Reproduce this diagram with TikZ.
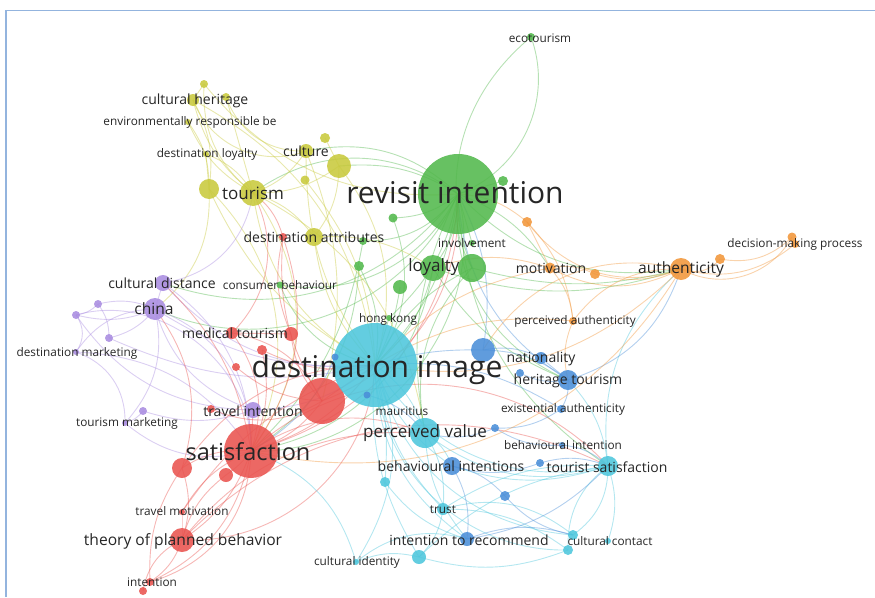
\documentclass[tikz,border=0pt]{standalone}
\usepackage{fontspec}
\newfontfamily\vosfont{Open Sans}
\definecolor{frm}{HTML}{93B4DE}
\definecolor{txt}{HTML}{262626}
\definecolor{grn}{HTML}{52B84C}
\definecolor{yel}{HTML}{C8C93C}
\definecolor{pur}{HTML}{A98CE0}
\definecolor{red}{HTML}{E9534F}
\definecolor{cya}{HTML}{4DC6DC}
\definecolor{blu}{HTML}{4A8ED8}
\definecolor{ora}{HTML}{F1963A}
\pgfdeclarelayer{bg}
\pgfsetlayers{bg,main}

\begin{document}
\begin{tikzpicture}[x=1pt,y=-1pt,
  kw/.style={circle, inner sep=0pt, draw=none, fill opacity=0.88},
  edge/.style={line width=0.9pt, draw opacity=0.42},
  lab/.style={text=txt, inner sep=0pt},
  fs/.style={font=\vosfont\fontsize{11.8}{12}\selectfont},
  fm/.style={font=\vosfont\fontsize{14}{15}\selectfont},
  fk/.style={font=\vosfont\fontsize{15.6}{16}\selectfont},
  fl/.style={font=\vosfont\fontsize{17}{18}\selectfont},
  fx/.style={font=\vosfont\fontsize{23.5}{24}\selectfont},
  fh/.style={font=\vosfont\fontsize{30}{31}\selectfont}]
\useasboundingbox (0,0) rectangle (875,597);
\draw[frm, line width=1.3pt] (6,597) -- (6,10.5) -- (875,10.5);

\node[kw, fill=grn, minimum size=80] (ri) at (458,194) {};
\node[kw, fill=grn, minimum size=8] (eco) at (531,37) {};
\node[kw, fill=grn, minimum size=10] (g1) at (503,181) {};
\node[kw, fill=grn, minimum size=6] (inv) at (472,243) {};
\node[kw, fill=grn, minimum size=26] (loy) at (433,268) {};
\node[kw, fill=grn, minimum size=28] (g2) at (472,268) {};
\node[kw, fill=grn, minimum size=9] (g3) at (393,218) {};
\node[kw, fill=grn, minimum size=8] (g4) at (363,241) {};
\node[kw, fill=grn, minimum size=10] (g5) at (359,266) {};
\node[kw, fill=grn, minimum size=14] (g6) at (400,287) {};
\node[kw, fill=grn, minimum size=7] (cb) at (280,285) {};
\node[kw, fill=grn, minimum size=6] (hk) at (389,318) {};

\node[kw, fill=yel, minimum size=26] (tou) at (253,193) {};
\node[kw, fill=yel, minimum size=20] (y1) at (209,189) {};
\node[kw, fill=yel, minimum size=12] (ch) at (193,100) {};
\node[kw, fill=yel, minimum size=8] (y2) at (204,84) {};
\node[kw, fill=yel, minimum size=8] (y3) at (226,97) {};
\node[kw, fill=yel, minimum size=6] (erb) at (188,122) {};
\node[kw, fill=yel, minimum size=6] (dl) at (206,154) {};
\node[kw, fill=yel, minimum size=14] (cul) at (306,151) {};
\node[kw, fill=yel, minimum size=24] (y4) at (339,166) {};
\node[kw, fill=yel, minimum size=10] (y5) at (325,138) {};
\node[kw, fill=yel, minimum size=9] (y6) at (305,180) {};
\node[kw, fill=yel, minimum size=18] (da) at (314,237) {};

\node[kw, fill=pur, minimum size=16] (cd) at (163,283) {};
\node[kw, fill=pur, minimum size=22] (chi) at (155,309) {};
\node[kw, fill=pur, minimum size=8] (p1) at (76,315) {};
\node[kw, fill=pur, minimum size=8] (p2) at (98,304) {};
\node[kw, fill=pur, minimum size=8] (p3) at (109,338) {};
\node[kw, fill=pur, minimum size=6] (dm) at (76,352) {};
\node[kw, fill=pur, minimum size=6] (tm) at (125,423) {};
\node[kw, fill=pur, minimum size=8] (p4) at (143,411) {};
\node[kw, fill=pur, minimum size=16] (ti) at (253,410) {};

\node[kw, fill=red, minimum size=54] (sat) at (251,451) {};
\node[kw, fill=red, minimum size=46] (r1) at (322,401) {};
\node[kw, fill=red, minimum size=20] (r2) at (182,468) {};
\node[kw, fill=red, minimum size=14] (r3) at (226,475) {};
\node[kw, fill=red, minimum size=12] (mt) at (232,333) {};
\node[kw, fill=red, minimum size=14] (r4) at (291,334) {};
\node[kw, fill=red, minimum size=10] (r5) at (262,350) {};
\node[kw, fill=red, minimum size=8] (r6) at (236,367) {};
\node[kw, fill=red, minimum size=8] (r7) at (211,409) {};
\node[kw, fill=red, minimum size=6] (tmo) at (182,512) {};
\node[kw, fill=red, minimum size=24] (tpb) at (182,540) {};
\node[kw, fill=red, minimum size=8] (int) at (150,582) {};
\node[kw, fill=red, minimum size=8] (r8) at (143,591) {};
\node[kw, fill=red, minimum size=8] (r9) at (283,237) {};

\node[kw, fill=cya, minimum size=84] (di) at (375,365) {};
\node[kw, fill=cya, minimum size=30] (pv) at (425,433) {};
\node[kw, fill=cya, minimum size=12] (tr) at (443,509) {};
\node[kw, fill=cya, minimum size=10] (c1) at (385,482) {};
\node[kw, fill=cya, minimum size=6] (ci) at (356,562) {};
\node[kw, fill=cya, minimum size=14] (c2) at (419,557) {};
\node[kw, fill=cya, minimum size=20] (ts) at (608,466) {};
\node[kw, fill=cya, minimum size=10] (cc1) at (573,535) {};
\node[kw, fill=cya, minimum size=10] (cc2) at (568,550) {};
\node[kw, fill=cya, minimum size=6] (cc) at (608,541) {};

\node[kw, fill=blu, minimum size=24] (b1) at (483,350) {};
\node[kw, fill=blu, minimum size=12] (nat) at (541,358) {};
\node[kw, fill=blu, minimum size=8] (b2) at (520,373) {};
\node[kw, fill=blu, minimum size=20] (ht) at (568,380) {};
\node[kw, fill=blu, minimum size=8] (ea) at (561,409) {};
\node[kw, fill=blu, minimum size=8] (b3) at (495,428) {};
\node[kw, fill=blu, minimum size=6] (bi) at (562,445) {};
\node[kw, fill=blu, minimum size=18] (bis) at (452,466) {};
\node[kw, fill=blu, minimum size=8] (b4) at (540,463) {};
\node[kw, fill=blu, minimum size=10] (b5) at (505,496) {};
\node[kw, fill=blu, minimum size=14] (itr) at (467,539) {};
\node[kw, fill=blu, minimum size=7] (b6) at (367,395) {};
\node[kw, fill=blu, minimum size=7] (b7) at (335,357) {};

\node[kw, fill=ora, minimum size=22] (aut) at (681,269) {};
\node[kw, fill=ora, minimum size=10] (o1) at (720,259) {};
\node[kw, fill=ora, minimum size=9] (dmp1) at (792,237) {};
\node[kw, fill=ora, minimum size=8] (dmp) at (795,244) {};
\node[kw, fill=ora, minimum size=11] (mot) at (550,268) {};
\node[kw, fill=ora, minimum size=10] (o2) at (595,274) {};
\node[kw, fill=ora, minimum size=10] (o3) at (527,222) {};
\node[kw, fill=ora, minimum size=8] (pa) at (573,321) {};

\begin{pgfonlayer}{bg}
\foreach \a/\b/\c/\k in {eco/ri/grn/25, eco/g2/grn/-20, ri/loy/grn/10, ri/g2/grn/-10,
  ri/g3/grn/10, ri/g4/grn/15, ri/cb/grn/20, ri/hk/grn/10, ri/di/grn/10, ri/tou/grn/-20,
  ri/cul/grn/-15, ri/y4/grn/-10, ri/aut/grn/-15, ri/mot/grn/10, ri/chi/grn/25,
  ri/cd/grn/20, ri/sat/grn/30, ri/pv/grn/-10, ri/ht/grn/-20, loy/di/grn/10,
  loy/aut/grn/-10, g2/di/grn/-10, g2/pv/grn/-15, g2/aut/grn/-8, loy/sat/grn/20,
  g1/ri/grn/0, g5/di/grn/10, g6/di/grn/5, g3/di/grn/15, cb/di/grn/-15, hk/di/grn/0,
  inv/ri/grn/0, g5/sat/grn/15, ri/ts/grn/-15, loy/ht/grn/-10, g4/sat/grn/10,
  ch/tou/yel/-10, ch/y1/yel/10, y2/tou/yel/-15, y2/ch/yel/0, y3/tou/yel/0,
  y3/cul/yel/-20, erb/y1/yel/10, erb/tou/yel/-10, dl/tou/yel/10, dl/y1/yel/0,
  tou/y4/yel/-10, tou/cul/yel/-10, tou/da/yel/10, tou/di/yel/-15, tou/sat/yel/20,
  y1/chi/yel/15, y1/di/yel/-10, y4/da/yel/10, y4/di/yel/15, y5/y4/yel/0,
  y6/di/yel/10, cul/di/yel/-10, cul/r1/yel/10, da/di/yel/-10, da/loy/yel/10,
  ch/cul/yel/-25, y2/ri/yel/-15, ch/di/yel/15, tou/pv/yel/15, y1/sat/yel/20,
  chi/p1/pur/10, chi/p2/pur/-10, chi/p3/pur/10, chi/dm/pur/-15, p1/dm/pur/20,
  p1/p2/pur/-10, p2/p3/pur/10, chi/tm/pur/15, tm/p4/pur/-10, p4/ti/pur/-10,
  chi/cd/pur/0, chi/di/pur/-10, chi/ti/pur/-15, chi/sat/pur/20, cd/di/pur/-15,
  cd/tou/pur/-20, dm/tm/pur/20, p1/sat/pur/30, tm/sat/pur/-15, ti/di/pur/-10,
  p1/ti/pur/-15, p3/di/pur/-10, dm/sat/pur/15, cd/sat/pur/15,
  sat/tpb/red/10, sat/r2/red/-10, sat/r3/red/5, sat/ti/red/0, sat/r1/red/-10,
  sat/di/red/-10, sat/pv/red/15, sat/mt/red/-15, sat/tmo/red/-10, sat/int/red/20,
  sat/ts/red/25, r1/di/red/0, r1/mt/red/-15, r1/r4/red/10, r1/ri/red/-20,
  r2/tpb/red/10, r2/int/red/-10, r3/tpb/red/-10, tpb/int/red/10, tpb/r8/red/-15,
  tpb/tmo/red/0, tpb/di/red/-25, mt/r4/red/0, mt/tou/red/-20, r4/r9/red/10,
  r9/tou/red/-10, r9/sat/red/15, r5/di/red/-10, r6/r1/red/-10, r7/r1/red/-15,
  r5/sat/red/10, r9/r1/red/-10, sat/ri/red/-20, tpb/pv/red/15, tpb/ts/red/20,
  r2/chi/red/-15, r2/di/red/15, tmo/di/red/10, sat/cd/red/-10, int/sat/red/-15,
  di/pv/cya/10, di/tr/cya/-10, di/ci/cya/15, di/c2/cya/-10, di/ts/cya/-20,
  di/bis/cya/-10, di/itr/cya/-15, di/cc1/cya/-20, di/cc2/cya/-25, di/c1/cya/5,
  pv/bis/cya/10, pv/ts/cya/-15, pv/tr/cya/10, pv/itr/cya/-10, ts/cc/cya/10,
  ts/cc1/cya/15, ts/cc2/cya/-15, ts/ht/cya/-10, ts/bis/cya/10, tr/cc2/cya/10,
  tr/cc1/cya/15, c2/cc2/cya/-10, c2/tr/cya/-10, ci/c2/cya/10, ci/itr/cya/15,
  c1/itr/cya/-10, ts/aut/cya/15, c2/ts/cya/10, ci/sat/cya/-15, tr/ts/cya/10,
  b1/di/blu/-5, b1/ht/blu/10, b1/nat/blu/10, b1/ri/blu/-10, nat/ht/blu/0,
  b2/ht/blu/-10, ht/ea/blu/10, ht/aut/blu/-15, ea/b3/blu/10, b3/bi/blu/-10,
  bi/ts/blu/10, bis/itr/blu/10, bis/b4/blu/-10, bis/b5/blu/10, b5/cc1/blu/-10,
  b4/ts/blu/10, itr/cc1/blu/10, b3/pv/blu/10, ea/di/blu/-10, b6/pv/blu/10,
  b7/sat/blu/10, ht/ri/blu/15, itr/ts/blu/-10,
  aut/o1/ora/-20, aut/dmp1/ora/-25, aut/dmp/ora/-15, aut/mot/ora/15, aut/o2/ora/10,
  aut/o3/ora/20, aut/pa/ora/-15, aut/di/ora/15, aut/sat/ora/20, aut/b1/ora/-20,
  mot/o3/ora/0, mot/pa/ora/10, mot/o2/ora/10, mot/di/ora/-10, o3/ri/ora/-10,
  o3/pa/ora/10, pa/ht/ora/-10, pa/di/ora/-10, o1/dmp1/ora/-15, mot/loy/ora/-10}
  {\pgfmathsetmacro\kk{1.8*\k}
  \draw[edge, draw=\c] (\a.center) to[bend left=\kk] (\b.center);}
\end{pgfonlayer}

\node[lab, fh] (ri-t) at (455,193) {revisit intention};
\node[lab, fh] (di-t) at (377,370) {destination image};
\node[lab, fx] (sat-t) at (248,452) {satisfaction};
\node[lab, fl] (tou-t) at (253,193) {tourism};
\node[lab, fl] (loy-t) at (434,267) {loyalty};
\node[lab, fl] (pv-t) at (425,433) {perceived value};
\node[lab, fk] (tpb-t) at (183,541) {theory of planned behavior};
\node[lab, fk] (aut-t) at (681,269) {authenticity};
\node[lab, fk] (chi-t) at (154,309) {china};
\node[lab, fm] (cd-t) at (162,283) {cultural distance};
\node[lab, fm] (cul-t) at (306,151) {culture};
\node[lab, fm] (mot-t) at (551,268) {motivation};
\node[lab, fm] (ht-t) at (568,381) {heritage tourism};
\node[lab, fm] (ts-t) at (607,467) {tourist satisfaction};
\node[lab, fm] (bis-t) at (451,466) {behavioural intentions};
\node[lab, fm] (itr-t) at (469,540) {intention to recommend};
\node[lab, fm] (mt-t) at (235,333) {medical tourism};
\node[lab, fm] (ti-t) at (253,411) {travel intention};
\node[lab, fm] (da-t) at (314,237) {destination attributes};
\node[lab, fm] (ch-t) at (195,101) {cultural heritage};
\node[lab, fm] (nat-t) at (541,359) {nationality};
\node[lab, fs] (eco-t) at (540,38) {ecotourism};
\node[lab, fs] (erb-t) at (190,122) {environmentally responsible be};
\node[lab, fs] (dl-t) at (207,154) {destination loyalty};
\node[lab, fs] (cb-t) at (280,285) {consumer behaviour};
\node[lab, fs] (inv-t) at (472,243) {involvement};
\node[lab, fs] (dmp-t) at (795,244) {decision-making process};
\node[lab, fs] (hk-t) at (388,319) {hong kong};
\node[lab, fs] (pa-t) at (575,321) {perceived authenticity};
\node[lab, fs] (dm-t) at (77,353) {destination marketing};
\node[lab, fs] (ea-t) at (563,409) {existential authenticity};
\node[lab, fs] (mau-t) at (402,411) {mauritius};
\node[lab, fs] (bi-t) at (563,445) {behavioural intention};
\node[lab, fs] (tm-t) at (127,423) {tourism marketing};
\node[lab, fs] (tmo-t) at (182,511) {travel motivation};
\node[lab, fs] (tr-t) at (443,510) {trust};
\node[lab, fs] (cc-t) at (610,541) {cultural contact};
\node[lab, fs] (ci-t) at (357,562) {cultural identity};
\node[lab, fs] (int-t) at (152,582) {intention};
\end{tikzpicture}
\end{document}
